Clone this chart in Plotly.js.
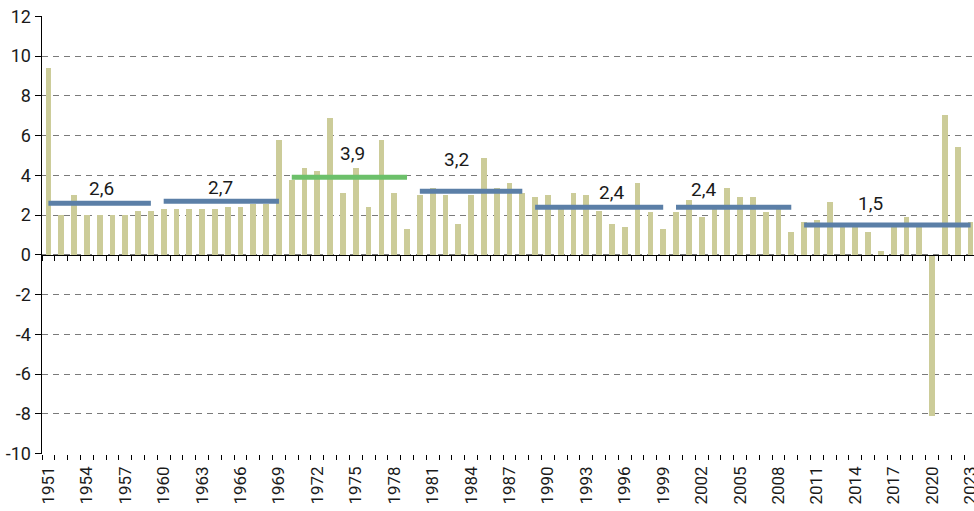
<!DOCTYPE html>
<html>
<head>
<meta charset="utf-8">
<script src="https://cdn.plot.ly/plotly-3.0.1.min.js"></script>
<style>
html, body { margin: 0; padding: 0; overflow: hidden; background: #fff; }
#chart { width: 977px; height: 511px; }
</style>
</head>
<body>
<div id="chart"></div>
<script>
// ---- data ----
const years = [1951,1952,1953,1954,1955,1956,1957,1958,1959,1960,
  1961,1962,1963,1964,1965,1966,1967,1968,1969,1970,
  1971,1972,1973,1974,1975,1976,1977,1978,1979,1980,
  1981,1982,1983,1984,1985,1986,1987,1988,1989,1990,
  1991,1992,1993,1994,1995,1996,1997,1998,1999,2000,
  2001,2002,2003,2004,2005,2006,2007,2008,2009,2010,
  2011,2012,2013,2014,2015,2016,2017,2018,2019,2020,
  2021,2022,2023];
const values = [9.4,2.0,3.0,2.0,2.0,2.0,2.0,2.2,2.2,2.3,
  2.3,2.3,2.3,2.3,2.4,2.4,2.55,2.55,5.8,3.75,
  4.35,4.2,6.9,3.1,4.35,2.4,5.8,3.1,1.3,3.0,
  3.35,3.0,1.55,3.0,4.85,3.35,3.6,3.1,2.9,3.0,
  2.3,3.1,3.0,2.2,1.55,1.4,3.6,2.15,1.3,2.15,
  2.75,1.9,2.4,3.35,2.9,2.9,2.15,2.3,1.15,1.65,
  1.75,2.65,1.5,1.4,1.15,0.2,1.5,1.9,1.5,-8.1,
  7.05,5.45,1.65];
const tickYears = [1951,1954,1957,1960,1963,1966,1969,1972,1975,1978,1981,1984,1987,
  1990,1993,1996,1999,2002,2005,2008,2011,2014,2017,2020,2023];
const yTickVals = [-10,-8,-6,-4,-2,0,2,4,6,8,10,12];
const yTickText = ['-10','-8','-6','-4','-2','0','2','4','6','8','10','12'];
const periodStart = [1951,1960,1970,1980,1989,2000,2010];
const periodEnd   = [1959,1969,1979,1988,1999,2009,2023];
const periodAvg   = [2.6,2.7,3.9,3.2,2.4,2.4,1.5];

// ---- styles / placement ----
const BLUE = '#5b7fa7', GREEN = '#6cc06a';
const periodColor = [BLUE,BLUE,GREEN,BLUE,BLUE,BLUE,BLUE];
const labelShiftX = [2,-1,3,-15,12,-30,-17];
const labelShiftY = [15,14,24,32,15,18,22];
const FONT = 'Roboto, Liberation Sans, sans-serif';
const TXT = '#1a1a1a';
const yMin = -10, yMax = 12, pad = 0.02;
const xRange = [years[0]-0.5, years[years.length-1]+0.5];

const traces = [{
  type: 'bar', x: years, y: values, width: 0.45,
  marker: {color: '#cccc99', line: {width: 0}},
  hoverinfo: 'x+y', showlegend: false
}];
periodAvg.forEach((v, i) => {
  traces.push({
    type: 'scatter', mode: 'lines', xaxis: 'x2', yaxis: 'y',
    x: [periodStart[i], periodEnd[i]], y: [v, v],
    line: {color: periodColor[i], width: 5}, showlegend: false, hoverinfo: 'y'
  });
});

const annotations = periodAvg.map((v, i) => ({
  xref: 'x', yref: 'y', x: (periodStart[i] + periodEnd[i]) / 2, y: v,
  text: v.toFixed(1).replace('.', ','), showarrow: false,
  xshift: labelShiftX[i], yshift: labelShiftY[i],
  font: {family: FONT, size: 19, color: TXT}
}));

const yr = [yMin - pad, yMax + pad];
const layout = {
  width: 977, height: 511,
  margin: {l: 42, r: 0, t: 16, b: 57},
  paper_bgcolor: '#fff', plot_bgcolor: '#fff',
  font: {family: FONT, size: 18, color: TXT},
  bargap: 0,
  xaxis: {
    range: xRange, tickmode: 'array', tickvals: tickYears,
    ticktext: tickYears.map(String), tickangle: -90,
    ticks: '', showgrid: false, zeroline: false, showline: false,
    ticklabeloverflow: 'allow', ticklabelstandoff: 8, automargin: false,
    tickfont: {family: FONT, size: 17, color: TXT},
    minor: {tickmode: 'linear', tick0: xRange[0], dtick: 1, ticks: 'outside',
            ticklen: 5, tickwidth: 1, tickcolor: '#000', showgrid: false}
  },
  xaxis2: {
    overlaying: 'x', anchor: 'free', position: (0 - yr[0]) / (yr[1] - yr[0]),
    range: xRange, showline: true, linecolor: '#000', linewidth: 1.5,
    ticks: 'outside', tickmode: 'linear', tick0: xRange[0], dtick: 1,
    ticklen: 5, tickwidth: 1, tickcolor: '#000',
    showticklabels: false, showgrid: false, zeroline: false
  },
  yaxis: {
    range: yr, tickmode: 'array', tickvals: yTickVals, ticktext: yTickText,
    showline: true, linecolor: '#000', linewidth: 1.5,
    ticks: 'outside', ticklen: 6, tickwidth: 1, tickcolor: '#000',
    showgrid: true, gridcolor: '#7a7a7a', gridwidth: 1, griddash: '6px,5px',
    zeroline: false, automargin: false, ticklabeloverflow: 'allow',
    tickfont: {family: FONT, size: 18, color: TXT}
  },
  annotations: annotations
};

Plotly.newPlot('chart', traces, layout, {displayModeBar: false, staticPlot: true});
</script>
</body>
</html>
